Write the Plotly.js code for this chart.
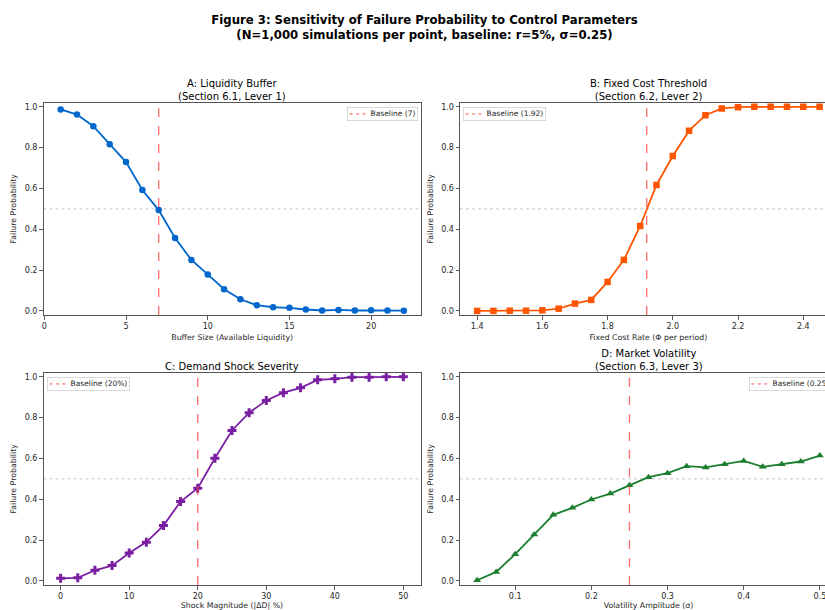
<!DOCTYPE html>
<html>
<head>
<meta charset="utf-8">
<script src="https://cdn.plot.ly/plotly-3.0.1.min.js"></script>
<style>
html,body{margin:0;padding:0;overflow:hidden;background:#fff;}
#chart{width:849px;height:610px;}
</style>
</head>
<body>
<div id="chart"></div>
<script>
// ---------- data ----------
const bufferX = [1,2,3,4,5,6,7,8,9,10,11,12,13,14,15,16,17,18,19,20,21,22];
const bufferP = [0.987,0.962,0.905,0.816,0.729,0.592,0.494,0.357,0.250,0.179,0.106,0.057,0.028,0.018,0.015,0.007,0.002,0.005,0.002,0.003,0.002,0.001];

const costX = [1.40,1.45,1.50,1.55,1.60,1.65,1.70,1.75,1.80,1.85,1.90,1.95,2.00,2.05,2.10,2.15,2.20,2.25,2.30,2.35,2.40,2.45];
const costP = [0.000,0.000,0.001,0.001,0.003,0.011,0.036,0.054,0.142,0.250,0.416,0.617,0.759,0.883,0.959,0.992,0.998,1.000,1.000,1.000,1.000,1.000];

const shockX = [0,2.5,5,7.5,10,12.5,15,17.5,20,22.5,25,27.5,30,32.5,35,37.5,40,42.5,45,47.5,50];
const shockP = [0.013,0.015,0.052,0.075,0.137,0.190,0.271,0.389,0.454,0.601,0.737,0.824,0.884,0.922,0.946,0.985,0.990,0.998,0.998,1.000,1.000];

const volX = [0.05,0.075,0.1,0.125,0.15,0.175,0.2,0.225,0.25,0.275,0.3,0.325,0.35,0.375,0.4,0.425,0.45,0.475,0.5];
const volP = [0.003,0.044,0.131,0.227,0.324,0.358,0.399,0.428,0.469,0.508,0.528,0.562,0.556,0.572,0.588,0.559,0.572,0.585,0.614];

const baselines = [7, 1.92, 20, 0.25];
const baselineLabels = ['Baseline (7)','Baseline (1.92)','Baseline (20%)','Baseline (0.25)'];
const refLevel = 0.5;

const panelTitles = ['A: Liquidity Buffer<br>(Section 6.1, Lever 1)',
                     'B: Fixed Cost Threshold<br>(Section 6.2, Lever 2)',
                     'C: Demand Shock Severity',
                     'D: Market Volatility<br>(Section 6.3, Lever 3)'];
const xTitles = ['Buffer Size (Available Liquidity)','Fixed Cost Rate (Φ per period)','Shock Magnitude (|ΔD| %)','Volatility Amplitude (σ)'];
const yTitle = 'Failure Probability';
const mainTitle = '<b>Figure 3: Sensitivity of Failure Probability to Control Parameters</b><br><b>(N=1,000 simulations per point, baseline: r=5%, σ=0.25)</b>';

// ---------- layout helpers ----------
const W = 849, H = 610;
const FONT = 'DejaVu Sans, Liberation Sans, sans-serif';
const px = v => v / W;
const py = v => 1 - v / H;

const colors = ['#0066CC', '#FF5500', '#7B1FA2', '#1B7F2F'];
const symbols = ['circle', 'square', 'cross', 'triangle-up'];
const markerSizes = [6.5, 6.5, 7.5, 7];
const xs = [bufferX, costX, shockX, volX];
const ys = [bufferP, costP, shockP, volP];
const baseColor = 'rgba(255,60,60,0.75)';
const baseLegendColor = '#ff5050';

// axes boxes in pixels [x0,x1,ytop,ybottom]
const boxes = [[43.5,421,102.7,315],[460,836.7,102.7,315],[43.5,420.5,372.7,585],[460,837,372.7,585]];
const xRanges = [[-0.05,23.05],[1.3475,2.5025],[-2.5,52.5],[0.0275,0.5225]];
const xTick = [{dtick:5,tick0:0,tickformat:'d'},{dtick:0.2,tick0:1.4,tickformat:'.1f'},{dtick:10,tick0:0,tickformat:'d'},{dtick:0.1,tick0:0.1,tickformat:'.1f'}];
// legend box anchor (pixels): x, anchor side
const legendPos = [{x:418, a:'right'},{x:463, a:'left'},{x:47, a:'left'},{x:749, a:'left'}];

const traces = [];
const layout = {
  width: W, height: H, autosize: false,
  margin: {l:0,r:0,t:0,b:0},
  paper_bgcolor: '#fff', plot_bgcolor: '#fff',
  font: {family: FONT, size: 8, color: '#262626'},
  title: {text: mainTitle, x: 0.5, xanchor: 'center', xref: 'paper', y: py(23.5), yanchor: 'middle', yref: 'paper',
          font: {family: FONT, size: 11.7, color: '#000'}},
  showlegend: false,
  shapes: [], annotations: []
};

for (let i = 0; i < 4; i++) {
  const sfx = i === 0 ? '' : String(i + 1);
  const b = boxes[i];
  const axCommon = {
    showline: true, mirror: true, linecolor: '#555', linewidth: 1,
    showgrid: false, zeroline: false,
    ticks: 'outside', ticklen: 3.5, tickwidth: 0.8, tickcolor: '#333',
    tickfont: {family: FONT, size: 8, color: '#262626'},
    automargin: false
  };
  layout['xaxis' + sfx] = Object.assign({}, axCommon, {
    domain: [px(b[0]), px(b[1])], range: xRanges[i], anchor: 'y' + sfx,
    tickmode: 'linear', dtick: xTick[i].dtick, tick0: xTick[i].tick0, tickformat: xTick[i].tickformat,
    title: {text: xTitles[i], font: {family: FONT, size: 7.8, color: '#262626'}, standoff: 4}
  });
  layout['yaxis' + sfx] = Object.assign({}, axCommon, {
    domain: [py(b[3]), py(b[2])], range: [-0.02, 1.02], anchor: 'x' + sfx,
    tickmode: 'linear', dtick: 0.2, tick0: 0, tickformat: '.1f',
    title: {text: yTitle, font: {family: FONT, size: 7.8, color: '#262626'}, standoff: 6}
  });

  traces.push({
    type: 'scatter', mode: 'lines+markers', x: xs[i], y: ys[i],
    xaxis: 'x' + sfx, yaxis: 'y' + sfx, showlegend: false,
    line: {color: colors[i], width: 1.8},
    marker: {color: colors[i], symbol: symbols[i], size: markerSizes[i]}
  });

  // reference 0.5 dotted line
  layout.shapes.push({
    type: 'line', xref: 'x' + sfx + ' domain', yref: 'y' + sfx,
    x0: 0, x1: 1, y0: refLevel, y1: refLevel,
    line: {color: 'rgba(140,140,140,0.6)', width: 0.8, dash: 'dot'}, layer: 'below'
  });
  // baseline dashed vertical
  layout.shapes.push({
    type: 'line', xref: 'x' + sfx, yref: 'y' + sfx + ' domain',
    x0: baselines[i], x1: baselines[i], y0: 0, y1: 1,
    line: {color: baseColor, width: 1.3, dash: 'dash'}
  });

  // legend box (compact, matplotlib-like)
  layout.annotations.push({
    text: '<span style="color:' + baseLegendColor + '"><b>– – –</b></span>  ' + baselineLabels[i],
    xref: 'paper', yref: 'paper',
    x: px(legendPos[i].x), xanchor: legendPos[i].a,
    y: py(b[2] + 4.5), yanchor: 'top', showarrow: false,
    bgcolor: 'rgba(255,255,255,0.9)', bordercolor: '#d0d0d0', borderwidth: 0.8, borderpad: 1.5,
    font: {family: FONT, size: 7.5, color: '#262626'}
  });

  // panel title
  layout.annotations.push({
    text: panelTitles[i], xref: 'paper', yref: 'paper',
    x: px((b[0] + b[1]) / 2), xanchor: 'center',
    y: py(b[2] + 1), yanchor: 'bottom', showarrow: false,
    font: {family: FONT, size: 10, color: '#000'}
  });
}

Plotly.newPlot('chart', traces, layout, {displayModeBar: false, staticPlot: true});
</script>
</body>
</html>
